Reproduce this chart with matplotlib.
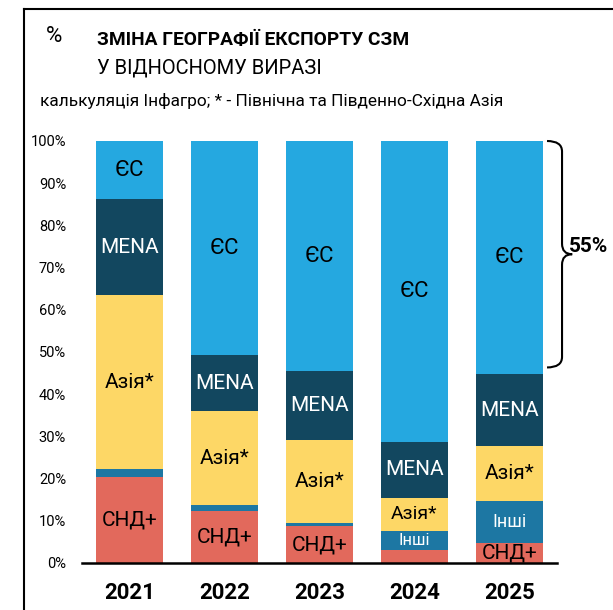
import matplotlib
matplotlib.use("Agg")
import matplotlib.pyplot as plt
from matplotlib.path import Path
from matplotlib.patches import PathPatch
from matplotlib.lines import Line2D
import numpy as np

plt.rcParams['font.family'] = ['Roboto', 'DejaVu Sans']

years = ["2021", "2022", "2023", "2024", "2025"]
cis = [20.4, 12.3, 8.6, 3.0, 4.6]
others = [1.9, 1.4, 0.8, 4.6, 10.1]
asia = [41.1, 22.2, 19.7, 7.8, 13.0]
mena = [22.8, 13.3, 16.3, 13.3, 17.0]
eu = [13.8, 50.8, 54.6, 71.3, 55.3]

series_names = ["СНД+", "Інші", "Азія*", "MENA", "ЄС"]
series_vals = [cis, others, asia, mena, eu]
colors = ["#E2695C", "#1D77A3", "#FDD766", "#12475F", "#25A8E0"]
text_colors = ["black", "white", "black", "white", "black"]
# which bars get a label per series
label_show = [
    [True, True, True, False, True],
    [False, False, False, True, True],
    [True, True, True, True, True],
    [True, True, True, True, True],
    [True, True, True, True, True],
]
label_sizes = [
    [15, 15, 15, 15, 15],
    [12, 12, 12, 12, 13],
    [15, 15, 15, 14, 15],
    [15, 15, 15, 15, 15],
    [16, 16, 16, 16, 16],
]
yticks = [0, 10, 20, 30, 40, 50, 60, 70, 80, 90, 100]
ytick_labels = [f"{v}%" for v in yticks]
brace_label = "55%"
brace_top = 100
brace_bottom = 46.3

fig = plt.figure(figsize=(6.13, 6.10), dpi=100)
ax = fig.add_axes([82/613, 1 - 562.7/610, 475/613, (562.7 - 141)/610])

x = np.arange(len(years))
bottom = np.zeros(len(years))
for name, vals, col, tc, show, sizes in zip(series_names, series_vals, colors, text_colors, label_show, label_sizes):
    vals = np.array(vals)
    ax.bar(x, vals, bottom=bottom, width=0.71, color=col, edgecolor='none', zorder=2)
    for i in range(len(years)):
        if show[i]:
            ax.text(x[i], bottom[i] + vals[i] / 2, name, ha='center', va='center',
                    color=tc, fontsize=sizes[i], zorder=3)
    bottom += vals

ax.set_xlim(-0.5, 4.5)
ax.set_ylim(0, 100)
ax.set_yticks(yticks)
ax.set_yticklabels(ytick_labels, fontsize=10.5)
ax.set_xticks(x)
ax.set_xticklabels(years, fontsize=16, fontweight='bold')
ax.tick_params(axis='y', length=0, pad=11.5)
ax.tick_params(axis='x', length=0, pad=14)
for s in ['top', 'right', 'left']:
    ax.spines[s].set_visible(False)
ax.spines['bottom'].set_linewidth(1.8)
ax.spines['bottom'].set_zorder(4)

# brace
x0, x1, x2 = 4.395, 4.553, 4.66
ym = (brace_top + brace_bottom) / 2
r = 2.5
verts = [
    (x0, brace_top), (x1, brace_top), (x1, brace_top - r),
    (x1, ym + r), (x1, ym), (x2, ym),
    (x1, ym), (x1, ym - r),
    (x1, brace_bottom + r), (x1, brace_bottom), (x0, brace_bottom),
]
codes = [Path.MOVETO, Path.CURVE3, Path.CURVE3,
         Path.LINETO, Path.CURVE3, Path.CURVE3,
         Path.CURVE3, Path.CURVE3,
         Path.LINETO, Path.CURVE3, Path.CURVE3]
ax.add_patch(PathPatch(Path(verts, codes), facecolor='none', edgecolor='black',
                       lw=1.5, clip_on=False, zorder=5))
ax.text(4.625, 75.0, brace_label, fontsize=15, fontweight='bold', ha='left', va='center',
        clip_on=False)

# frame lines
fig.add_artist(Line2D([24/613, 24/613], [0, 1 - 9/610], color='black', lw=1.5))
fig.add_artist(Line2D([24/613, 1], [1 - 9/610, 1 - 9/610], color='black', lw=1.5))

# titles
fig.text(54/613, 1 - 37/610, "%", fontsize=16, ha='center', va='center')
fig.text(97/613, 1 - 40/610, "ЗМІНА ГЕОГРАФІЇ ЕКСПОРТУ СЗМ", fontsize=13.8,
         fontweight='bold', ha='left', va='center')
fig.text(97/613, 1 - 68/610, "У ВІДНОСНОМУ ВИРАЗІ", fontsize=14.5,
         ha='left', va='center')
fig.text(40/613, 1 - 101/610, "калькуляція Інфагро; * - Північна та Південно-Східна Азія",
         fontsize=12.4, ha='left', va='center')

fig.savefig("out.png", dpi=100)
